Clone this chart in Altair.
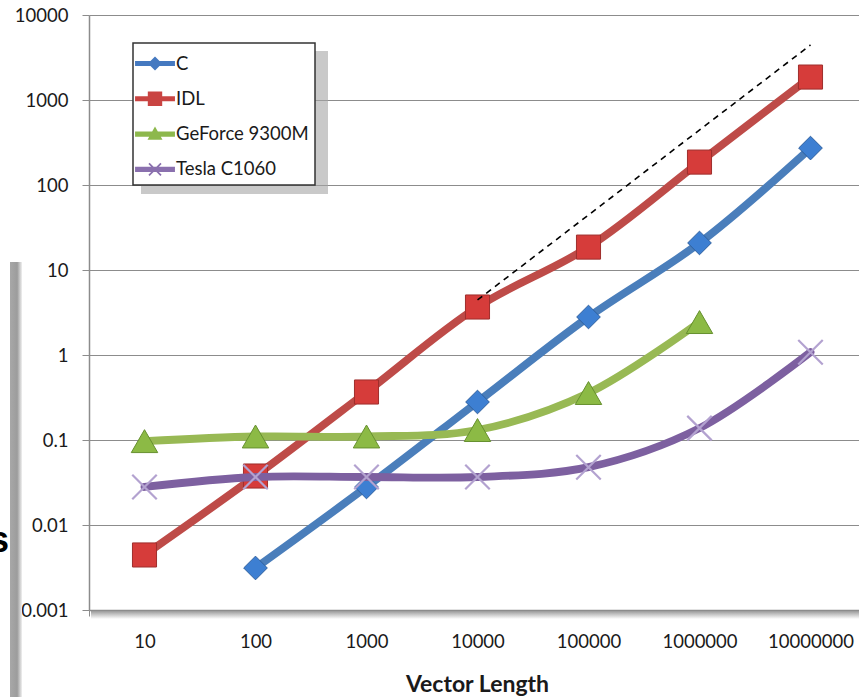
import altair as alt
import pandas as pd

categories = ["10", "100", "1000", "10000", "100000", "1000000", "10000000"]
series = ["C", "IDL", "GeForce 9300M", "Tesla C1060"]
c_vals = [None, 0.00312, 0.028, 0.28, 2.8, 20.8, 272]
idl_vals = [0.00444, 0.0377, 0.367, 3.67, 18.6, 186, 1862]
geforce_vals = [0.097, 0.11, 0.11, 0.131, 0.357, 2.44, None]
tesla_vals = [0.028, 0.0367, 0.0367, 0.0367, 0.0479, 0.138, 1.08]
trend_x = ["10000", "10000000"]
trend_y = [4.44, 4440]
y_ticks = [0.001, 0.01, 0.1, 1, 10, 100, 1000, 10000]

line_colors = ["#4A7EBB", "#BE4B48", "#98B954", "#7D60A0"]
marker_fill = ["#3D7FD2", "#D63C3A", "#8CBA45", "#FFFFFF"]
marker_stroke = ["#2D5F9E", "#9E2E2C", "#66902F", "#B3A2D0"]
marker_shape = ["diamond", "square", "triangle-up", "M-1,-1L1,1M-1,1L1,-1"]
marker_size = [560, 580, 700, 600]
marker_sw = [1, 1, 1, 2.2]

bar_line = "M-1.33,-0.17L1.33,-0.17L1.33,0.17L-1.33,0.17Z"
legend_paths = [
    bar_line + "M0,-0.47L0.47,0L0,0.47L-0.47,0Z",
    bar_line + "M-0.48,-0.48L0.48,-0.48L0.48,0.48L-0.48,0.48Z",
    bar_line + "M0,-0.5L0.5,0.38L-0.5,0.38Z",
    bar_line + "M-0.44,-0.36L-0.36,-0.44L0.44,0.36L0.36,0.44Z"
    + "M-0.44,0.36L0.36,-0.44L0.44,-0.36L-0.36,0.44Z",
]
legend_colors = ["#4579C0", "#C94442", "#8DB84C", "#8A70AE"]

rows = []
for s, vals in zip(series, [c_vals, idl_vals, geforce_vals, tesla_vals]):
    for cat, v in zip(categories, vals):
        if v is not None:
            rows.append({"length": cat, "time": v, "series": s})
df = pd.DataFrame(rows)
trend_df = pd.DataFrame({"length": trend_x, "time": trend_y})

X = alt.X(
    "length:N",
    sort=categories,
    scale=alt.Scale(type="band", domain=categories, paddingInner=0, paddingOuter=0, range=[0, 777]),
    axis=alt.Axis(
        title="Vector Length",
        tickBand="extent",
        labelAngle=0,
        labelFont="Lato",
        labelFontSize=18.5,
        labelColor="#1A1A1A",
        labelBaseline="middle",
        labelPadding=25,
        tickSize=6,
        tickColor="#8C8C8C",
        domainColor="#8C8C8C",
        domainWidth=1.5,
        grid=False,
        titleFont="Lato",
        titleFontSize=23,
        titleFontWeight="bold",
        titleColor="#1A1A1A",
        titleBaseline="middle",
        titleY=74,
        titleX=388,
    ),
)
Y = alt.Y(
    "time:Q",
    scale=alt.Scale(type="log", domain=[0.001, 10000], nice=False),
    axis=alt.Axis(
        title=None,
        values=y_ticks,
        format="~g",
        labelFont="Lato",
        labelFontSize=18.5,
        labelColor="#1A1A1A",
        labelPadding=14,
        tickSize=7,
        tickColor="#8C8C8C",
        domainColor="#8C8C8C",
        domainWidth=1.5,
        grid=True,
        gridColor="#8C8C8C",
        gridWidth=1.2,
    ),
)

layers = []

# decorations: left grey bar, cut "s", shadow under x axis, legend shadow
deco = alt.Data(values=[{"k": 1}])
layers.append(
    alt.Chart(deco).mark_rect(
        color=alt.Gradient(
            gradient="linear",
            stops=[
                alt.GradientStop(color="#A8A8A8", offset=0),
                alt.GradientStop(color="#9C9C9C", offset=0.6),
                alt.GradientStop(color="#F0F0F0", offset=1),
            ],
            x1=0, x2=1, y1=0, y2=0,
        )
    ).encode(x=alt.value(-79), x2=alt.value(-67), y=alt.value(247), y2=alt.value(690))
)
layers.append(
    alt.Chart(deco).mark_text(
        font="Liberation Sans", fontSize=36, fontWeight="bold", align="right", baseline="alphabetic", color="#000000"
    ).encode(text=alt.value("s"), x=alt.value(-80), y=alt.value(537))
)
layers.append(
    alt.Chart(deco).mark_rect(
        color=alt.Gradient(
            gradient="linear",
            stops=[
                alt.GradientStop(color="#9A9A9A", offset=0),
                alt.GradientStop(color="#FFFFFF", offset=1),
            ],
            x1=0, x2=0, y1=0, y2=1,
        )
    ).encode(x=alt.value(2), x2=alt.value(777), y=alt.value(596), y2=alt.value(604))
)
layers.append(
    alt.Chart(deco).mark_rect(color="#A5A5A5", opacity=0.6).encode(
        x=alt.value(52), x2=alt.value(239), y=alt.value(36), y2=alt.value(179)
    )
)

legend_def = alt.Legend(title=None, labelExpr="datum.label + '    '")

# invisible layer that carries the legend
layers.append(
    alt.Chart(df).mark_point(filled=True, opacity=0).encode(
        x=X,
        y=Y,
        color=alt.Color("series:N", scale=alt.Scale(domain=series, range=legend_colors), legend=legend_def),
        shape=alt.Shape("series:N", scale=alt.Scale(domain=series, range=legend_paths), legend=legend_def),
    )
)

for i, s in enumerate(series):
    base = alt.Chart(df).transform_filter(alt.datum.series == s)
    layers.append(
        base.mark_line(
            color=line_colors[i], strokeWidth=7.8, interpolate="catmull-rom", strokeCap="round", strokeJoin="round"
        ).encode(x=X, y=Y)
    )
    layers.append(
        base.mark_point(
            shape=marker_shape[i],
            size=marker_size[i],
            fill=marker_fill[i],
            fillOpacity=1 if i < 3 else 0,
            stroke=marker_stroke[i],
            strokeWidth=marker_sw[i],
            opacity=1,
        ).encode(x=X, y=Y)
    )

layers.append(
    alt.Chart(trend_df).mark_line(color="#000000", strokeWidth=1.6, strokeDash=[6, 5]).encode(x=X, y=Y)
)

chart = alt.layer(*layers).properties(
    width=770,
    height=595,
    padding={"left": 89, "top": 15, "right": 0, "bottom": 87},
    autosize=alt.AutoSizeParams(type="none"),
    background="#FFFFFF",
).configure_view(stroke=None).configure_legend(
    orient="none",
    legendX=44,
    legendY=28,
    padding=5.5,
    symbolOffset=1.5,
    symbolSize=900,
    symbolStrokeWidth=0,
    symbolOpacity=1,
    labelFont="Lato",
    labelFontSize=18.5,
    labelColor="#1A1A1A",
    labelOffset=6,
    rowPadding=10.3,
    strokeColor="#333333",
    strokeWidth=1.5,
    fillColor="#FFFFFF",
    cornerRadius=0,
)

chart.save("out.html", embed_options={"renderer": "svg", "actions": False})
